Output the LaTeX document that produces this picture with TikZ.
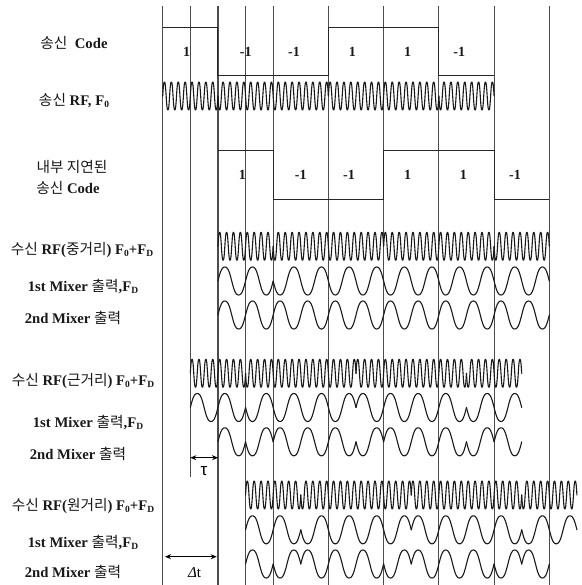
\documentclass[tikz,border=0pt]{standalone}
\usepackage{fontspec}
\setmainfont{Liberation Serif}
\newfontfamily\krf{Noto Sans CJK KR}
\newfontfamily\sansf{Liberation Sans}
\usetikzlibrary{arrows.meta}
\newcommand{\kr}[1]{{\normalfont\krf #1}}
\newcommand{\sbs}[1]{\raisebox{-0.25ex}{\fontsize{9.5}{9.5}\selectfont #1}}
% \wv{y centre}{amplitude sign}{from chip}{to chip}{periods per chip}
\newcommand{\wv}[5]{%
  \pgfmathsetmacro{\wxa}{162.7+55.23*#3}%
  \pgfmathsetmacro{\wper}{55.23/#5}%
  \pgfmathsetmacro{\wdeg}{(#4-#3)*#5*360}%
  \pgfmathtruncatemacro{\wsam}{(#4-#3)*#5*24+1}%
  \draw[wave] plot[variable=\t,domain=0:\wdeg,samples=\wsam] ({\wxa+\t/360*\wper},{#1-#2*14*(1.25*sin(\t)-0.25*sin(\t)*sin(\t)*sin(\t))});%
}
\tikzset{
  wave/.style={black!90,line width=1.1pt,line join=round,line cap=round},
  grid line/.style={black!70,line width=1.15pt},
  code line/.style={black!85,line width=1pt},
  dim line/.style={black,line width=1pt,{Stealth[length=6pt,width=5pt]}-{Stealth[length=6pt,width=5pt]}},
  lbl/.style={inner sep=0pt,font=\bfseries\fontsize{14.7}{16}\selectfont,text=black!90},
  bit/.style={inner sep=0pt,font=\bfseries\fontsize{14}{16}\selectfont,text=black!90}
}
\begin{document}
\begin{tikzpicture}[x=1pt,y=-1pt]
\useasboundingbox[fill=white] (0,0) rectangle (581,585);
% vertical grid
\foreach \k in {0,1,1.5,2,3,4,5,6,7}{
  \pgfmathsetmacro{\gx}{162.7+55.23*\k}
  \draw[grid line] (\gx,6) -- (\gx,585);
}
\draw[grid line] (190.3,6) -- (190.3,477);
% codes
\draw[code line] (162.7,27.3) -- (217.9,27.3) -- (217.9,75.3) -- (328.4,75.3) -- (328.4,27.3) -- (438.9,27.3) -- (438.9,75.3) -- (494.1,75.3);
\draw[code line] (217.9,151) -- (273.2,151) -- (273.2,199.3) -- (383.6,199.3) -- (383.6,151) -- (494.1,151) -- (494.1,199.3) -- (549.3,199.3);
% transmitted RF
\wv{96}{1}{0}{1}{8}\wv{96}{-1}{1}{3}{8}\wv{96}{1}{3}{5}{8}\wv{96}{-1}{5}{6}{8}
% received, mid range
\wv{246.3}{1}{1}{2}{8}\wv{246.3}{-1}{2}{4}{8}\wv{246.3}{1}{4}{6}{8}\wv{246.3}{-1}{6}{7}{8}
\wv{281}{1}{1}{2}{2}\wv{281}{-1}{2}{7}{2}
\wv{315}{1}{1}{7}{2}
% received, near
\wv{373.3}{1}{0.5}{1.5}{8}\wv{373.3}{-1}{1.5}{3.5}{8}\wv{373.3}{1}{3.5}{5.5}{8}\wv{373.3}{-1}{5.5}{6.5}{8}
\wv{407.5}{1}{0.5}{1.5}{2}\wv{407.5}{-1}{1.5}{3.5}{2}\wv{407.5}{1}{3.5}{5.5}{2}\wv{407.5}{-1}{5.5}{6.5}{2}
\wv{441.8}{1}{1}{1.5}{2}\wv{441.8}{-1}{1.5}{2}{2}\wv{441.8}{1}{2}{3.5}{2}\wv{441.8}{-1}{3.5}{4}{2}\wv{441.8}{1}{4}{5.5}{2}\wv{441.8}{-1}{5.5}{6}{2}\wv{441.8}{1}{6}{6.5}{2}
% received, far
\wv{495}{1}{1.5}{2.5}{8}\wv{495}{-1}{2.5}{4.5}{8}\wv{495}{1}{4.5}{6.5}{8}\wv{495}{-1}{6.5}{7.5}{8}
\wv{529.8}{1}{1.5}{2.5}{2}\wv{529.8}{-1}{2.5}{4.5}{2}\wv{529.8}{1}{4.5}{6.5}{2}\wv{529.8}{-1}{6.5}{7.5}{2}
\wv{564}{1}{1.5}{2}{2}\wv{564}{-1}{2}{2.5}{2}\wv{564}{1}{2.5}{4}{2}\wv{564}{-1}{4}{4.5}{2}\wv{564}{1}{4.5}{6}{2}\wv{564}{-1}{6}{6.5}{2}\wv{564}{1}{6.5}{7}{2}
% bit labels
\node[bit] (a1) at (186.7,51.7) {1};
\node[bit] (a2) at (245.7,51.7) {-1};
\node[bit] (a3) at (294,51.7) {-1};
\node[bit] (a4) at (352.3,51.7) {1};
\node[bit] (a5) at (407.7,51.7) {1};
\node[bit] (a6) at (459.3,51.7) {-1};
\node[bit] (b1) at (242.3,175) {1};
\node[bit] (b2) at (300.7,175) {-1};
\node[bit] (b3) at (349,175) {-1};
\node[bit] (b4) at (407.7,175) {1};
\node[bit] (b5) at (463.3,175) {1};
\node[bit] (b6) at (515,175) {-1};
% left labels
\node[lbl] (l1) at (74,42.7) {\kr{송신}\ \ Code};
\node[lbl] (l2) at (74,100.7) {\kr{송신} RF, F\sbs{0}};
\node[lbl] (l3) at (72,167) {\kr{내부 지연된}};
\node[lbl] (l4) at (68,188) {\kr{송신} Code};
\node[lbl] (l5) at (82,250) {\kr{수신} RF(\kr{중거리}) F\sbs{0}+F\sbs{D}};
\node[lbl] (l6) at (83,287) {1st Mixer \kr{출력},F\sbs{D}};
\node[lbl] (l7) at (73,318) {2nd Mixer \kr{출력}};
\node[lbl] (l8) at (83,381) {\kr{수신} RF(\kr{근거리}) F\sbs{0}+F\sbs{D}};
\node[lbl] (l9) at (88,422.7) {1st Mixer \kr{출력},F\sbs{D}};
\node[lbl] (l10) at (78,454) {2nd Mixer \kr{출력}};
\node[lbl] (l11) at (83,506) {\kr{수신} RF(\kr{원거리}) F\sbs{0}+F\sbs{D}};
\node[lbl] (l12) at (83,542.7) {1st Mixer \kr{출력},F\sbs{D}};
\node[lbl] (l13) at (73,571.7) {2nd Mixer \kr{출력}};
% dimensions
\coordinate (ta) at (190.3,457.7);
\coordinate (tb) at (218,457.7);
\draw[dim line] (ta) -- (tb);
\node[inner sep=0pt,font=\sansf\fontsize{17}{17}\selectfont] (tau) at (204,471) {τ};
\coordinate (da) at (165,556.7);
\coordinate (db) at (216.7,556.7);
\draw[dim line] (da) -- (db);
\node[inner sep=0pt,font=\fontsize{15}{16}\selectfont] (dt) at (194.5,572.7) {\textit{Δ}t};
\end{tikzpicture}
\end{document}
